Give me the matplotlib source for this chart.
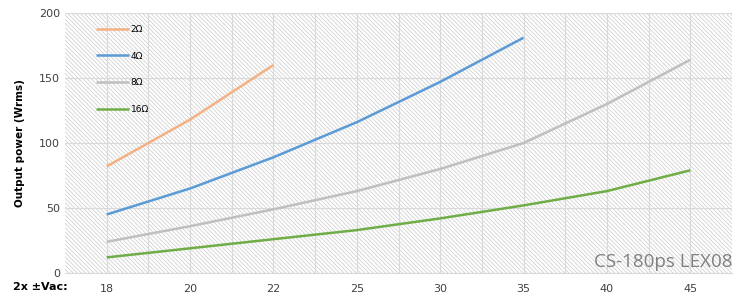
import matplotlib
matplotlib.use("Agg")
import matplotlib.pyplot as plt
import numpy as np

voltages = ["18", "20", "22", "25", "30", "35", "40", "45"]
power_2ohm = [82, 118, 160]
power_4ohm = [45, 65, 89, 116, 147, 181]
power_8ohm = [24, 36, 49, 63, 80, 100, 130, 164]
power_16ohm = [12, 19, 26, 33, 42, 52, 63, 79]

series = [
    ("2Ω", power_2ohm, "#f4b183"),
    ("4Ω", power_4ohm, "#5b9bd5"),
    ("8Ω", power_8ohm, "#bfbfbf"),
    ("16Ω", power_16ohm, "#70ad47"),
]

plt.rcParams["hatch.linewidth"] = 0.6
plt.rcParams["hatch.color"] = "#d2d2d2"

fig = plt.figure(figsize=(7.36, 2.97), dpi=100)
ax = fig.add_axes([65 / 736, 24 / 297, 667 / 736, 260 / 297])

ax.patch.set_facecolor("white")
ax.patch.set_hatch("\\" * 8)
ax.patch.set_edgecolor("#d2d2d2")

x = np.arange(len(voltages))
for label, vals, color in series:
    ax.plot(x[:len(vals)], vals, color=color, lw=1.8, label=label,
            solid_capstyle="butt")

ax.set_xlim(-0.5, len(voltages) - 0.5)
ax.set_ylim(0, 200)
ax.set_yticks([0, 50, 100, 150, 200])
ax.set_xticks(x)
ax.set_xticklabels(voltages)
ax.set_xticks(x + 0.5, minor=True)
ax.grid(True, which="both", axis="x", color="#d9d9d9", lw=0.8)
ax.grid(True, which="major", axis="y", color="#d9d9d9", lw=0.8)
ax.set_axisbelow(True)
ax.tick_params(which="both", length=0, labelsize=8, colors="#404040")
ax.tick_params(axis="x", pad=8)
for side in ["top", "right", "left"]:
    ax.spines[side].set_visible(False)
ax.spines["bottom"].set_color("#d9d9d9")

ax.set_ylabel("Output power (Wrms)", fontsize=7.5, fontweight="bold", labelpad=10)
fig.text(40 / 736, 1 - 287 / 297, "2x ±Vac:", fontsize=8, fontweight="bold",
         ha="center", va="center")

ax.legend(loc="upper left", bbox_to_anchor=(0.035, 0.985), frameon=False,
          fontsize=6.5, handlelength=3.6, handletextpad=0.2, labelspacing=1.95)

fig.text(733 / 736, 1 - 262 / 297, "CS-180ps LEX08", fontsize=13.5, color="#808080",
         ha="right", va="center", family="Open Sans")

fig.savefig("out.png", dpi=100)
